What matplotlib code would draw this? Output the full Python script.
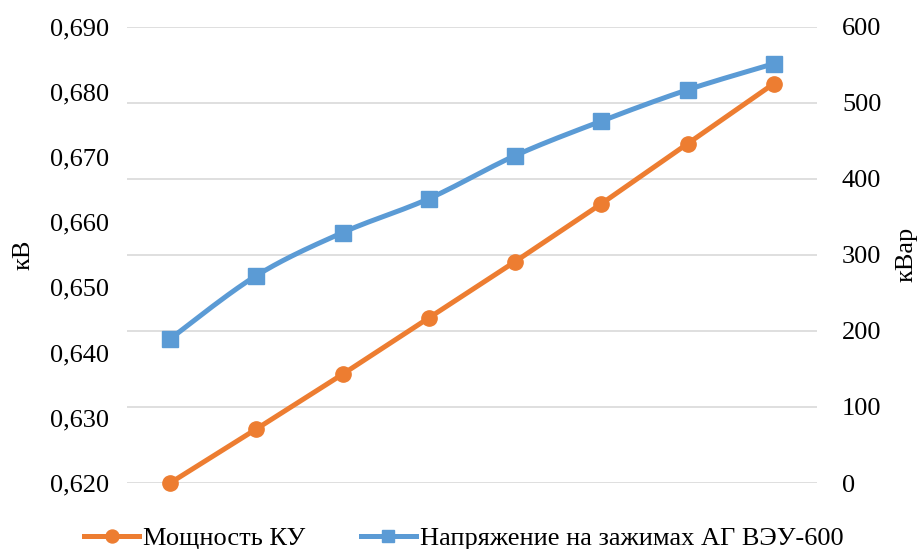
import numpy as np
import matplotlib
matplotlib.use("Agg")
import matplotlib.pyplot as plt
from matplotlib.ticker import FuncFormatter

plt.rcParams['font.family'] = ['Liberation Serif', 'DejaVu Serif']

# Data
steps = list(range(1, 9))
power_ku = [0, 71, 143, 217, 291, 367, 446, 525]                              # кВар
voltage = [0.6421, 0.6518, 0.6584, 0.6636, 0.6702, 0.6755, 0.6803, 0.6843]    # кВ

left_ticks = [0.620, 0.630, 0.640, 0.650, 0.660, 0.670, 0.680, 0.690]
right_ticks = [0, 100, 200, 300, 400, 500, 600]

ORANGE = '#ED7D31'
BLUE = '#5B9BD5'
FS = 19


def smooth(x, y, n=20, t=0.5):
    """Cardinal spline through the given points (smoothed line style)."""
    x = np.asarray(x, float)
    y = np.asarray(y, float)
    xs, ys = [], []
    for i in range(len(x) - 1):
        p0 = i - 1 if i > 0 else i
        p3 = i + 2 if i + 2 < len(x) else i + 1
        mx1 = t * (x[i + 1] - x[p0]); my1 = t * (y[i + 1] - y[p0])
        mx2 = t * (x[p3] - x[i]); my2 = t * (y[p3] - y[i])
        s = np.linspace(0, 1, n, endpoint=(i == len(x) - 2))
        h1 = 2 * s**3 - 3 * s**2 + 1
        h2 = -2 * s**3 + 3 * s**2
        h3 = s**3 - 2 * s**2 + s
        h4 = s**3 - s**2
        xs.append(h1 * x[i] + h2 * x[i + 1] + h3 * mx1 + h4 * mx2)
        ys.append(h1 * y[i] + h2 * y[i + 1] + h3 * my1 + h4 * my2)
    return np.concatenate(xs), np.concatenate(ys)


fig = plt.figure(figsize=(9.22, 5.49), dpi=100)
ax = fig.add_axes([0.1377, 0.1202, 0.7484, 0.8315])
ax2 = ax.twinx()

ax.set_xlim(0.5, 8.5)
ax.set_ylim(0.620, 0.690)
ax2.set_ylim(0, 600)

# gridlines follow the right-hand scale
ax2.set_yticks(right_ticks)
ax2.grid(axis='y', color='#D9D9D9', linewidth=1.2)
ax2.set_axisbelow(True)
ax.set_yticks(left_ticks)

for a in (ax, ax2):
    for sp in a.spines.values():
        sp.set_visible(False)
    a.tick_params(length=0, labelsize=FS)
ax.set_xticks([])
ax.tick_params(axis='y', pad=13)
ax2.tick_params(axis='y', pad=18)
ax.yaxis.set_major_formatter(FuncFormatter(lambda v, p: f"{v:.3f}".replace('.', ',')))

# Voltage on the left axis, drawn above the orange line
sx, sy = smooth(steps, voltage)
ax2.set_zorder(1)
ax.set_zorder(2)
ax.patch.set_visible(False)
ax.plot(sx, sy, color=BLUE, linewidth=3.6, solid_capstyle='round', zorder=3,
        clip_on=False)
ax.plot(steps, voltage, linestyle='none', marker='s', markersize=11,
        color=BLUE, zorder=4, clip_on=False)
l_blue, = ax.plot([], [], color=BLUE, linewidth=3.6, marker='s', markersize=11,
                  label='Напряжение на зажимах АГ ВЭУ-600')

l_orange, = ax2.plot(steps, power_ku, color=ORANGE, linewidth=3.6, marker='o',
                     markersize=11, label='Мощность КУ', zorder=3,
                     clip_on=False)

ax.set_ylabel('кВ', fontsize=FS, labelpad=11)
ax2.set_ylabel('кВар', fontsize=FS, labelpad=10)

fig.legend(handles=[l_orange, l_blue], loc='lower center', ncol=2,
           bbox_to_anchor=(0.503, -0.045), frameon=False, fontsize=FS,
           handlelength=2.1, columnspacing=2.1, handletextpad=0.15,
           markerscale=0.85)

fig.savefig('out.png', dpi=100)
